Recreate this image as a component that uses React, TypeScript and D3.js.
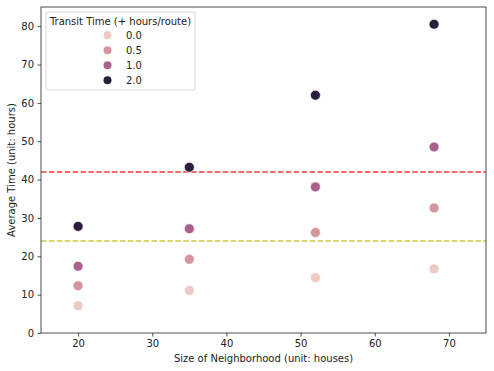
import React, { useEffect, useRef } from "react";
import * as d3 from "d3";

const neighborhoodSizes = [20, 35, 52, 68];
const transitLevels = [0.0, 0.5, 1.0, 2.0];
const levelLabels = ["0.0", "0.5", "1.0", "2.0"];
const avgTime0 = [7.1, 11.1, 14.4, 16.7];
const avgTime05 = [12.3, 19.2, 26.2, 32.6];
const avgTime1 = [17.4, 27.2, 38.1, 48.5];
const avgTime2 = [27.8, 43.2, 62.0, 80.5];
const xTicks = [20, 30, 40, 50, 60, 70];
const yTicks = [0, 10, 20, 30, 40, 50, 60, 70, 80];
const refLines = [
  { value: 42, color: "#f03a3a" },
  { value: 24, color: "#c9c93a" },
];
const levelColours = ["#ebcbc3", "#d4959f", "#a8628b", "#2c1d3c"];

function App() {
  const chart = useRef<SVGSVGElement>(null);

  useEffect(() => {
    const width = 494;
    const height = 371;
    const margin = { top: 7, right: 8, bottom: 38, left: 41 };
    const svg = d3.select(chart.current)
      .attr("width", width)
      .attr("height", height)
      .style("position", "absolute")
      .style("left", 0)
      .style("top", 0)
      .style("font-family", "DejaVu Sans")
      .style("background", "#fff");

    const x = d3.scaleLinear().domain([15, 75]).range([margin.left, width - margin.right]);
    const y = d3.scaleLinear().domain([0, 85]).range([height - margin.bottom, margin.top]);

    const series = [avgTime0, avgTime05, avgTime1, avgTime2];
    const points = series.flatMap((vals, si) =>
      vals.map((v, i) => ({ x: neighborhoodSizes[i], y: v, level: transitLevels[si], colour: levelColours[si] }))
    );

    // reference lines
    svg.selectAll(".ref-line")
      .data(refLines)
      .enter()
      .append("line")
      .attr("class", "ref-line")
      .attr("x1", x(15))
      .attr("x2", x(75))
      .attr("y1", d => y(d.value))
      .attr("y2", d => y(d.value))
      .attr("stroke", d => d.color)
      .attr("stroke-width", 1.5)
      .attr("stroke-dasharray", "5.5,2.4");

    // points
    svg.selectAll(".pt")
      .data(points)
      .enter()
      .append("circle")
      .attr("class", "pt")
      .attr("cx", d => x(d.x))
      .attr("cy", d => y(d.y))
      .attr("r", 5)
      .attr("fill", d => d.colour)
      .attr("stroke", "#fff")
      .attr("stroke-width", 0.7);

    // axes
    const xAxis = svg.append("g")
      .attr("transform", `translate(0,${height - margin.bottom})`)
      .call(d3.axisBottom(x).tickValues(xTicks).tickSize(3.5).tickPadding(3.5));
    const yAxis = svg.append("g")
      .attr("transform", `translate(${margin.left},0)`)
      .call(d3.axisLeft(y).tickValues(yTicks).tickSize(3.5).tickPadding(3.5));
    [xAxis, yAxis].forEach(g => {
      g.select(".domain").remove();
      g.selectAll("text").attr("font-size", 10).attr("font-family", "DejaVu Sans").attr("fill", "#222");
      g.selectAll("line").attr("stroke", "#222").attr("stroke-width", 0.8);
    });

    // frame
    svg.append("rect")
      .attr("x", margin.left)
      .attr("y", margin.top)
      .attr("width", width - margin.left - margin.right)
      .attr("height", height - margin.top - margin.bottom)
      .attr("fill", "none")
      .attr("stroke", "#222")
      .attr("stroke-width", 0.8);

    // axis labels
    svg.append("text")
      .attr("x", (margin.left + width - margin.right) / 2)
      .attr("y", 362)
      .attr("text-anchor", "middle")
      .attr("font-size", 10)
      .attr("fill", "#222")
      .text("Size of Neighborhood (unit: houses)");
    svg.append("text")
      .attr("transform", `translate(15,${(margin.top + height - margin.bottom) / 2}) rotate(-90)`)
      .attr("text-anchor", "middle")
      .attr("font-size", 10)
      .attr("fill", "#222")
      .text("Average Time (unit: hours)");

    // legend
    const legend = svg.append("g").attr("transform", "translate(46,12)");
    legend.append("rect")
      .attr("width", 149)
      .attr("height", 78)
      .attr("rx", 2)
      .attr("fill", "#fff")
      .attr("fill-opacity", 0.8)
      .attr("stroke", "#ccc")
      .attr("stroke-width", 0.8);
    legend.append("text")
      .attr("x", 74.5)
      .attr("y", 13)
      .attr("text-anchor", "middle")
      .attr("font-size", 10)
      .attr("fill", "#222")
      .text("Transit Time (+ hours/route)");
    const items = legend.selectAll(".item")
      .data(levelLabels)
      .enter()
      .append("g")
      .attr("class", "item")
      .attr("transform", (d, i) => `translate(0,${23.2 + i * 15})`);
    items.append("circle")
      .attr("cx", 61.5)
      .attr("r", 4)
      .attr("fill", (d, i) => levelColours[i]);
    items.append("text")
      .attr("x", 80)
      .attr("y", 3.5)
      .attr("font-size", 10)
      .attr("fill", "#222")
      .text(d => d);

    return () => {
      svg.selectAll("*").remove();
    };
  }, []);

  return <svg ref={chart}></svg>;
}

export default App;
